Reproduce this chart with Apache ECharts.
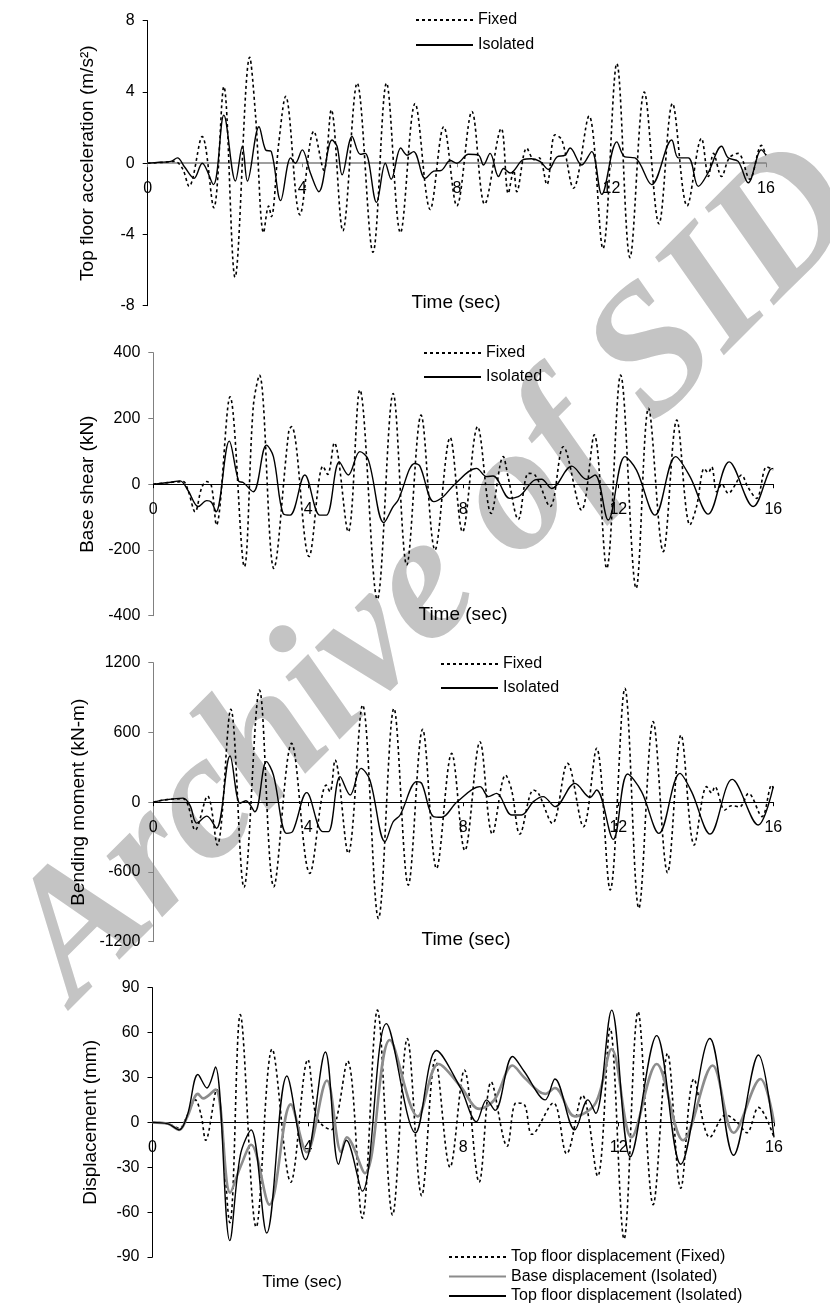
<!DOCTYPE html>
<html>
<head>
<meta charset="utf-8">
<script src="https://cdn.jsdelivr.net/npm/echarts@6/dist/echarts.min.js"></script>
<style>
html,body{margin:0;padding:0;background:#fff;}
#chart{width:830px;height:1303px;}
</style>
</head>
<body>
<div id="chart"></div>
<script>
// ---- DATA: [time (sec), value] ----
const accFixed = [[0,0],[0.4,0.05],[0.7,0.1],[0.9,-0.3],[1.07,-1.3],[1.41,1.5],[1.71,-2.5],[1.97,4.3],[2.26,-6.4],[2.64,5.95],[2.79,2.7],[3.0,-3.9],[3.13,-2.4],[3.2,-3.0],[3.39,1.1],[3.57,3.75],[3.94,-2.9],[4.3,1.8],[4.56,-0.4],[4.75,3.0],[5.05,-3.8],[5.42,4.5],[5.83,-5.0],[6.18,4.5],[6.54,-3.9],[6.92,3.35],[7.31,-2.6],[7.66,2.05],[8.0,-2.4],[8.39,2.9],[8.72,-2.3],[9.15,1.95],[9.33,-1.7],[9.47,-0.4],[9.55,-1.6],[9.81,0.85],[10.0,0.2],[10.13,0.3],[10.33,-1.2],[10.54,1.6],[10.72,1.3],[11.02,-1.4],[11.42,2.65],[11.78,-4.8],[12.14,5.6],[12.48,-5.3],[12.85,4.0],[13.23,-3.4],[13.58,3.35],[13.96,-2.4],[14.33,1.4],[14.51,-0.75],[14.64,0.55],[14.85,-0.75],[15.05,0.3],[15.28,0.55],[15.58,-0.9],[15.88,1.0],[16,0.45]];
const accIsolated = [[0,0],[0.3,0.05],[0.6,0.1],[0.77,0.3],[0.95,-0.2],[1.2,-0.85],[1.41,0],[1.7,-1.2],[1.97,2.7],[2.27,-1.0],[2.45,0.95],[2.58,-1.0],[2.88,2.05],[3.05,0.75],[3.2,0.65],[3.44,-2.1],[3.7,0.3],[3.82,0],[4.0,0.75],[4.21,-0.55],[4.43,-1.6],[4.77,1.3],[4.9,0.95],[5.03,-0.65],[5.29,1.5],[5.5,0.5],[5.63,0.55],[5.92,-2.2],[6.15,0],[6.3,-0.9],[6.55,0.85],[6.71,0.45],[6.88,0.65],[7.18,-0.85],[7.4,-0.45],[7.6,-0.4],[7.83,0.15],[8.0,0],[8.3,0.5],[8.56,0.45],[8.69,-0.1],[8.86,0.55],[9.08,-0.75],[9.21,-0.3],[9.38,-0.55],[9.72,0.2],[9.93,0.25],[10.15,0.1],[10.37,-0.35],[10.59,0.35],[10.8,0.45],[10.93,0.85],[11.23,-0.1],[11.49,0.65],[11.75,-1.75],[12.14,1.2],[12.35,0.35],[12.61,0.3],[13.04,-1.2],[13.56,1.3],[13.73,0.3],[13.99,0.3],[14.25,-1.3],[14.5,-0.55],[14.85,0.95],[15.02,0.3],[15.28,0.1],[15.54,-1.1],[15.88,0.75],[16,0.45]];

const shearFixed = [[0,0],[0.4,5],[0.77,8],[0.9,-20],[1.08,-84],[1.25,-10],[1.38,8],[1.5,-5],[1.63,-124],[1.98,266],[2.35,-251],[2.58,236],[2.74,332],[3.11,-256],[3.5,165],[3.57,175],[4.02,-220],[4.38,55],[4.5,30],[4.67,126],[5.03,-145],[5.33,287],[5.78,-350],[6.19,276],[6.54,-246],[6.91,210],[7.27,-200],[7.66,142],[7.98,-145],[8.37,175],[8.72,-89],[9.03,84],[9.16,20],[9.42,-107],[9.68,33],[9.85,28],[10.24,-68],[10.58,114],[11.05,-79],[11.38,150],[11.7,-256],[12.06,332],[12.46,-317],[12.78,231],[13.16,-205],[13.51,195],[13.85,-124],[14.02,-68],[14.22,48],[14.32,35],[14.41,53],[14.54,-23],[14.67,0],[14.84,-28],[15.0,-5],[15.18,28],[15.35,-10],[15.57,-43],[15.83,53],[16,43]];
const shearIsolated = [[0,0],[0.4,5],[0.69,10],[0.9,-20],[1.16,-68],[1.38,-50],[1.5,-55],[1.62,-84],[1.96,131],[2.2,10],[2.32,5],[2.58,-23],[2.92,119],[3.1,84],[3.35,-89],[3.53,-94],[3.91,28],[4.3,-94],[4.47,-94],[4.8,68],[5.03,28],[5.33,99],[5.55,74],[5.95,-117],[6.19,-68],[6.32,-48],[6.75,63],[6.88,55],[7.24,-53],[7.48,-38],[7.78,0],[8.34,48],[8.6,23],[8.77,25],[9.2,-43],[9.42,-38],[9.55,-25],[9.85,13],[10.02,15],[10.28,-13],[10.8,55],[11.18,15],[11.4,28],[11.74,-109],[12.17,84],[12.47,43],[12.95,-94],[13.48,84],[13.85,23],[14.32,-91],[14.86,68],[15.48,-68],[15.91,43],[16,48]];

const momentFixed = [[0,0],[0.3,20],[0.77,30],[0.9,-30],[1.08,-240],[1.4,53],[1.65,-368],[2.0,800],[2.34,-733],[2.74,965],[3.11,-727],[3.57,506],[4.04,-612],[4.46,147],[4.56,90],[4.69,363],[5.03,-440],[5.4,836],[5.81,-1000],[6.21,807],[6.58,-713],[6.95,627],[7.31,-570],[7.7,420],[8.04,-416],[8.43,520],[8.75,-274],[9.09,234],[9.25,100],[9.46,-274],[9.81,105],[9.94,77],[10.3,-182],[10.69,334],[11.1,-211],[11.44,464],[11.79,-755],[12.17,980],[12.53,-913],[12.9,693],[13.27,-606],[13.62,578],[13.96,-368],[14.28,134],[14.41,80],[14.49,134],[14.75,-67],[14.92,-30],[15.13,-40],[15.36,76],[15.71,-124],[15.96,148],[16,120]];
const momentIsolated = [[0,0],[0.3,20],[0.77,35],[0.95,-30],[1.12,-180],[1.38,-120],[1.63,-225],[1.98,397],[2.24,-10],[2.39,13],[2.62,-82],[2.92,349],[3.1,234],[3.44,-268],[3.6,-250],[3.96,82],[4.37,-253],[4.52,-253],[4.82,220],[5.08,62],[5.36,291],[5.59,191],[5.98,-340],[6.19,-168],[6.37,-110],[6.8,177],[6.93,160],[7.23,-124],[7.44,-130],[7.83,0],[8.43,134],[8.65,48],[8.86,76],[9.25,-110],[9.5,-110],[9.81,5],[10.06,48],[10.37,-38],[10.88,162],[11.27,42],[11.44,105],[11.87,-320],[12.24,243],[12.6,91],[13.05,-268],[13.59,248],[13.89,91],[14.37,-274],[14.94,196],[15.61,-196],[16,134]];

const dispTopFixed = [[0,0],[0.4,-1],[0.69,-4],[0.9,5],[1.1,15],[1.25,5],[1.37,-12],[1.65,22],[1.99,-67],[2.26,72],[2.67,-70],[3.08,49],[3.56,-40],[4.0,42],[4.2,5],[4.38,-2],[4.6,-5],[5.02,41],[5.4,-64],[5.79,75],[6.18,-62],[6.56,56],[6.93,-49],[7.28,42],[7.66,-30],[8.03,35],[8.41,-40],[8.72,27],[9.13,-16],[9.36,13],[9.57,12],[9.77,-8],[10.32,13],[10.66,-21],[11.07,18],[11.46,-36],[11.78,63],[12.14,-78],[12.5,74],[12.89,-55],[13.26,46],[13.6,-44],[13.94,29],[14.35,-10],[14.76,5],[15.05,0],[15.3,-7],[15.6,10],[16,-10]];
const dispBaseIsolated = [[0,0],[0.4,-1],[0.69,-5],[0.9,4],[1.17,19],[1.3,16],[1.62,22],[2.0,-47],[2.26,-30],[2.54,-15],[3.01,-55],[3.56,12],[3.97,-20],[4.49,28],[4.86,-20],[5.0,-10],[5.47,-34],[6.11,55],[6.83,4],[7.36,39],[7.93,24],[8.41,9],[8.8,15],[9.27,38],[9.57,30],[10.11,19],[10.36,23],[10.87,4],[11.41,13],[11.82,49],[12.33,-10],[12.98,39],[13.66,-12],[14.42,38],[14.96,-7],[15.65,29],[16,0]];
const dispTopIsolated = [[0,0],[0.4,-1],[0.69,-5],[0.9,5],[1.17,32],[1.4,23],[1.62,37],[1.99,-79],[2.26,-22],[2.54,-5],[2.94,-74],[3.46,31],[3.94,-25],[4.45,47],[4.79,-28],[4.99,-12],[5.4,-46],[6.02,66],[6.77,-7],[7.31,48],[7.93,23],[8.34,0.5],[8.6,15],[8.82,8],[9.27,44],[9.57,34],[10.11,15],[10.36,29],[10.87,-5],[11.21,15],[11.41,6],[11.82,75],[12.3,-23],[12.98,58],[13.6,-28],[14.35,56],[14.96,-22],[15.6,45],[16,-10]];

const timeTicks = {min: 0, max: 16, interval: 4};
const yRanges = [
  {min: -8, max: 8, interval: 4},
  {min: -400, max: 400, interval: 200},
  {min: -1200, max: 1200, interval: 600},
  {min: -90, max: 90, interval: 30}
];
const yTitles = ['Top floor acceleration (m/s²)', 'Base shear (kN)', 'Bending moment (kN-m)', 'Displacement (mm)'];
const xTitle = 'Time (sec)';
const legendNames = ['Fixed', 'Isolated'];
const dispNames = ['Top floor displacement (Fixed)', 'Base displacement (Isolated)', 'Top floor displacement (Isolated)'];
const watermark = 'Archive of SID';

// ---- LAYOUT ----
const FONT = '"Liberation Sans", Arial, sans-serif';
const grids = [
  {left: 147.7, top: 20.7, width: 618.3, height: 285},
  {left: 153.3, top: 352.7, width: 620, height: 263},
  {left: 153.3, top: 662.7, width: 620, height: 279},
  {left: 152.5, top: 987.7, width: 621.5, height: 269.3}
];
const xAxisColors = ['#808080', '#000', '#000', '#000'];
const xAxisWidths = [1.5, 1, 1, 1];
const yAxisColors = ['#000', '#808080', '#808080', '#000'];
const nameGaps = [50, 55, 52, 52];

const xAxes = grids.map((g, i) => ({
  type: 'value', gridIndex: i, min: timeTicks.min, max: timeTicks.max, interval: timeTicks.interval,
  position: 'bottom', offset: -g.height / 2,
  axisLine: {onZero: false, lineStyle: {color: xAxisColors[i], width: xAxisWidths[i]}},
  axisTick: {show: true, length: 4, lineStyle: {color: xAxisColors[i]}},
  axisLabel: {fontSize: 16, color: '#000', margin: 17, fontFamily: FONT, showMinLabel: true, showMaxLabel: true},
  splitLine: {show: false}
}));
const yAxes = grids.map((g, i) => ({
  type: 'value', gridIndex: i, min: yRanges[i].min, max: yRanges[i].max, interval: yRanges[i].interval,
  axisLine: {show: true, onZero: false, lineStyle: {color: yAxisColors[i], width: 1}},
  axisTick: {show: true, length: 5, lineStyle: {color: yAxisColors[i]}},
  axisLabel: {fontSize: 16, color: '#000', margin: 13, fontFamily: FONT, formatter: v => String(v)},
  splitLine: {show: false},
  name: yTitles[i], nameLocation: 'middle', nameGap: nameGaps[i], nameRotate: 90,
  nameTextStyle: {fontSize: 19, color: '#000', fontFamily: FONT}
}));

const dashed = {color: '#000', width: 1.6, type: [3, 3]};
const solid = {color: '#000', width: 1.4, type: 'solid'};
const grey = {color: '#8c8c8c', width: 2.6, type: 'solid'};
function line(name, data, idx, style, z) {
  return {name, type: 'line', xAxisIndex: idx, yAxisIndex: idx, data, symbol: 'none', showSymbol: false,
    smooth: 0.35, lineStyle: style, itemStyle: {color: style.color}, z: z, silent: true};
}
const series = [
  line(legendNames[0], accFixed, 0, dashed, 2), line(legendNames[1], accIsolated, 0, solid, 3),
  line(legendNames[0], shearFixed, 1, dashed, 2), line(legendNames[1], shearIsolated, 1, solid, 3),
  line(legendNames[0], momentFixed, 2, dashed, 2), line(legendNames[1], momentIsolated, 2, solid, 3),
  line(dispNames[0], dispTopFixed, 3, dashed, 2), line(dispNames[1], dispBaseIsolated, 3, grey, 3),
  line(dispNames[2], dispTopIsolated, 3, solid, 4)
];

function legend(left, top, data, gap) {
  return {left, top, height: 120, orient: 'vertical', itemWidth: 57, itemHeight: 14, itemGap: gap, data,
    selectedMode: false, itemStyle: {opacity: 0},
    textStyle: {fontSize: 16, color: '#000', fontFamily: FONT}};
}
const legends = [
  legend(410, 7, legendNames, 9),
  legend(418, 340, legendNames, 8),
  legend(435, 651, legendNames, 8),
  legend(443, 1244, dispNames, 3.5)
];

const xTitlePos = [[456, 303, 19], [463, 615, 19], [466, 940, 19], [302, 1282, 17]];
const graphics = [{
  type: 'text', x: -22, y: 908, rotation: 45 * Math.PI / 180, z: -10, silent: true,
  style: {text: watermark, font: 'italic bold 180px "Liberation Serif", "Times New Roman", serif',
    fill: '#c4c4c4', textAlign: 'left', textVerticalAlign: 'alphabetic'}
}].concat(xTitlePos.map(p => ({
  type: 'text', x: p[0], y: p[1], z: 10, silent: true,
  style: {text: xTitle, font: p[2] + 'px ' + FONT, fill: '#000', textAlign: 'center', textVerticalAlign: 'middle'}
})));

const chart = echarts.init(document.getElementById('chart'), null, {renderer: 'canvas'});
chart.setOption({
  backgroundColor: '#fff',
  animation: false,
  grid: grids,
  xAxis: xAxes,
  yAxis: yAxes,
  legend: legends,
  series: series,
  graphic: graphics
});
</script>
</body>
</html>
